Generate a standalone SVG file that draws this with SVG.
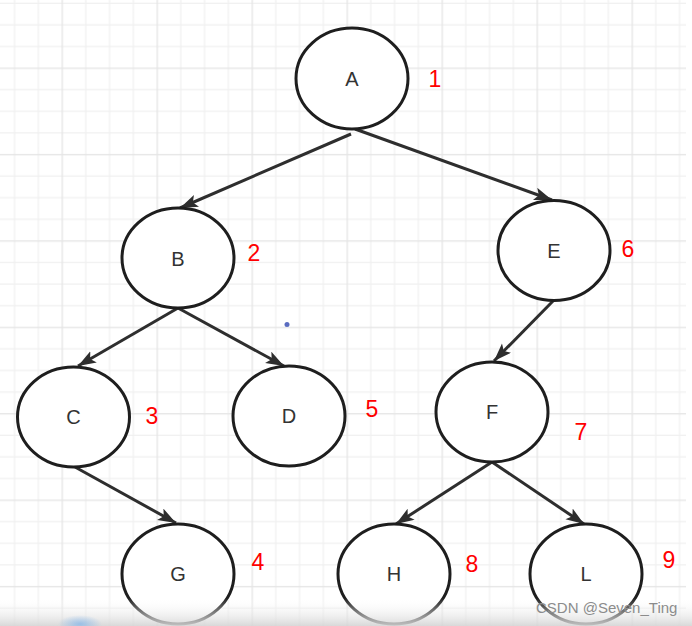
<svg xmlns="http://www.w3.org/2000/svg" width="692" height="626" viewBox="0 0 692 626">
  <defs>
    <pattern id="grid" patternUnits="userSpaceOnUse" x="61.5" y="67.5" width="95" height="86.4">
      <rect x="23.75" y="0" width="1.2" height="86.4" fill="#f0f0f0"/>
      <rect x="47.5" y="0" width="1.2" height="86.4" fill="#f0f0f0"/>
      <rect x="71.25" y="0" width="1.2" height="86.4" fill="#f0f0f0"/>
      <rect x="0" y="21.6" width="95" height="1.2" fill="#f0f0f0"/>
      <rect x="0" y="43.2" width="95" height="1.2" fill="#f0f0f0"/>
      <rect x="0" y="64.8" width="95" height="1.2" fill="#f0f0f0"/>
      <rect x="0" y="0" width="1.4" height="86.4" fill="#e6e6e6"/>
      <rect x="0" y="0" width="95" height="1.4" fill="#e6e6e6"/>
    </pattern>
    <linearGradient id="bottomFade" x1="0" y1="0" x2="0" y2="1">
      <stop offset="0" stop-color="#ffffff" stop-opacity="0"/>
      <stop offset="1" stop-color="#d4d4d4" stop-opacity="0.9"/>
    </linearGradient>
    <radialGradient id="blob">
      <stop offset="0" stop-color="#8ab8e8" stop-opacity="0.8"/>
      <stop offset="1" stop-color="#8ab8e8" stop-opacity="0"/>
    </radialGradient>
    <marker id="arrow" markerUnits="userSpaceOnUse" markerWidth="20" markerHeight="14" refX="18" refY="6.5" orient="auto">
      <path d="M0,0 L18,6.5 L0,13 L4,6.5 Z" fill="#2e2e2e"/>
    </marker>
    <style>
      .node ellipse { fill: #ffffff; stroke: #1e1e1e; stroke-width: 3; }
      .node text { font-family: "Liberation Sans", Arial, sans-serif; font-size: 20px; fill: #333333; text-anchor: middle; dominant-baseline: central; }
      .num { font-family: "Liberation Sans", Arial, sans-serif; font-size: 23px; fill: #ff0000; text-anchor: middle; dominant-baseline: central; }
      .edge { stroke: #2e2e2e; stroke-width: 3; fill: none; marker-end: url(#arrow); }
      .wm { font-family: "Liberation Sans", Arial, sans-serif; font-size: 15px; fill: #8c8c8c; }
    </style>
  </defs>

  <rect width="692" height="626" fill="#ffffff"/>
  <rect width="686" height="626" fill="url(#grid)"/>

  <g id="connectors">
    <line class="edge" x1="351" y1="134" x2="180" y2="208"/>
    <line class="edge" x1="355" y1="129" x2="552" y2="200"/>
    <line class="edge" x1="178" y1="308" x2="78" y2="366"/>
    <line class="edge" x1="178" y1="308" x2="284" y2="366"/>
    <line class="edge" x1="75" y1="467" x2="176" y2="523"/>
    <line class="edge" x1="554" y1="300" x2="494" y2="361"/>
    <line class="edge" x1="492" y1="462" x2="396" y2="524"/>
    <line class="edge" x1="492" y1="462" x2="584" y2="524"/>
  </g>

  <g id="node-A" class="node"><ellipse cx="352" cy="78.5" rx="56" ry="50.5"/><text x="352" y="79">A</text></g>
  <g id="node-B" class="node"><ellipse cx="178" cy="258" rx="56" ry="50"/><text x="178" y="259">B</text></g>
  <g id="node-E" class="node"><ellipse cx="554" cy="250.5" rx="56" ry="50"/><text x="554" y="251">E</text></g>
  <g id="node-C" class="node"><ellipse cx="73.5" cy="417" rx="56" ry="50"/><text x="73.5" y="417">C</text></g>
  <g id="node-D" class="node"><ellipse cx="289" cy="416" rx="56" ry="50"/><text x="289" y="416">D</text></g>
  <g id="node-F" class="node"><ellipse cx="492" cy="412" rx="56" ry="50"/><text x="492" y="412">F</text></g>
  <g id="node-G" class="node"><ellipse cx="178" cy="574" rx="56" ry="50"/><text x="178" y="574">G</text></g>
  <g id="node-H" class="node"><ellipse cx="394" cy="574" rx="56" ry="50"/><text x="394" y="574">H</text></g>
  <g id="node-L" class="node"><ellipse cx="586" cy="574" rx="56" ry="50"/><text x="586" y="574">L</text></g>

  <g id="numbers">
    <text class="num" x="435" y="79">1</text>
    <text class="num" x="254" y="253">2</text>
    <text class="num" x="152" y="416">3</text>
    <text class="num" x="258" y="562">4</text>
    <text class="num" x="372" y="409">5</text>
    <text class="num" x="628" y="249">6</text>
    <text class="num" x="581" y="432">7</text>
    <text class="num" x="472" y="564">8</text>
    <text class="num" x="669" y="560">9</text>
  </g>

  <circle cx="287" cy="324.5" r="2.5" fill="#5a6cc0"/>

  <rect x="0" y="598" width="692" height="28" fill="url(#bottomFade)"/>
  <ellipse cx="80" cy="624" rx="22" ry="9" fill="url(#blob)"/>
  <text class="wm" x="536" y="613">CSDN @Seven_Ting</text>
</svg>
